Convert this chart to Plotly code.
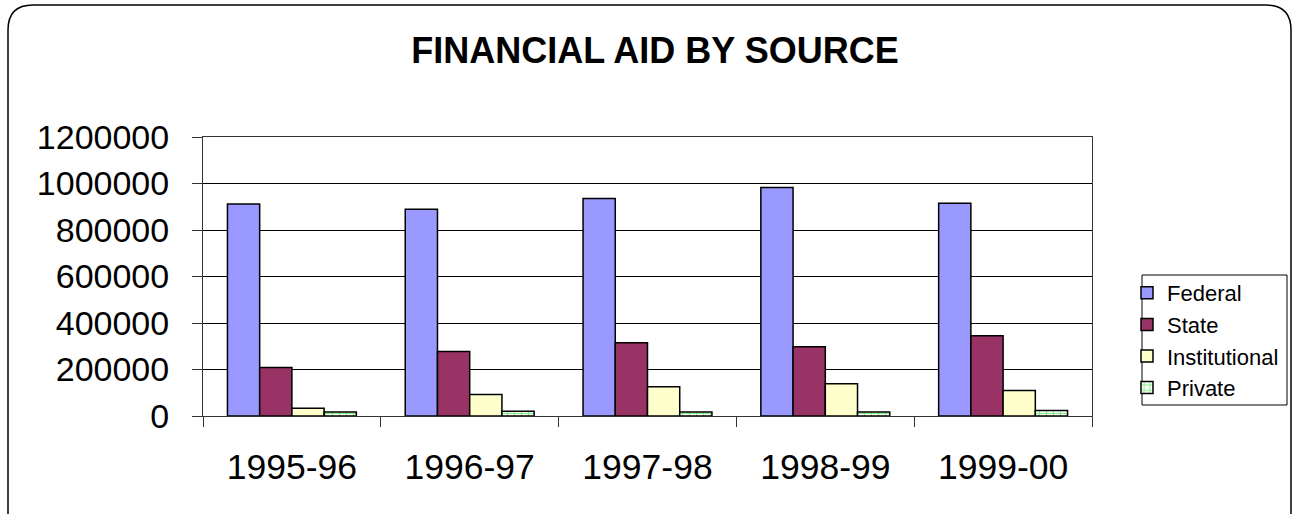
import plotly.graph_objects as go

years = ["1995-96", "1996-97", "1997-98", "1998-99", "1999-00"]
federal = [912000, 889000, 935000, 983000, 915000]
state = [209000, 277000, 315000, 298000, 345000]
institutional = [33000, 93000, 126000, 139000, 110000]
private = [17000, 20000, 17000, 17000, 24000]
y_ticks = [0, 200000, 400000, 600000, 800000, 1000000, 1200000]

FONT = "Liberation Sans, Arial, sans-serif"
line = dict(color="black", width=1.5)

fig = go.Figure()
fig.add_trace(go.Bar(name="Federal", x=years, y=federal,
                     marker=dict(color="#9999FF", line=line)))
fig.add_trace(go.Bar(name="State", x=years, y=state,
                     marker=dict(color="#993366", line=line)))
fig.add_trace(go.Bar(name="Institutional", x=years, y=institutional,
                     marker=dict(color="#FFFFCC", line=line)))
fig.add_trace(go.Bar(name="Private", x=years, y=private,
                     marker=dict(color="white", line=line,
                                 pattern=dict(shape="+", fgcolor="#00DD00",
                                              bgcolor="white", size=7, solidity=0.3))))

# plot area in pixels: x 203..1092, y 137..416
L, R, T, B = 203, 1092, 137, 416
W, H = R - L, B - T
def px(x): return (x - L) / W
def py(y): return (B - y) / H

# rounded outer border
x0, x1, y0, y1 = px(8), px(1291), py(5), py(530)
rx, ry = 25 / W, 25 / H
path = (f"M {x0},{y0 - ry} L {x0},{y1} L {x1},{y1} L {x1},{y0 - ry} "
        f"Q {x1},{y0} {x1 - rx},{y0} L {x0 + rx},{y0} Q {x0},{y0} {x0},{y0 - ry} Z")

fig.update_layout(
    width=1293, height=514,
    margin=dict(l=L, r=1293 - R, t=T, b=514 - B, autoexpand=False),
    paper_bgcolor="white", plot_bgcolor="white",
    barmode="group", bargap=0.275, bargroupgap=0,
    font=dict(family=FONT, color="black"),
    title=dict(text="<b>FINANCIAL AID BY SOURCE</b>", x=655 / 1293, xanchor="center",
               y=1 - 50 / 514, yanchor="middle", font=dict(size=36, family=FONT)),
    showlegend=True,
    legend=dict(x=px(1127), xanchor="left", y=py(272), yanchor="top",
                borderwidth=0, bgcolor="rgba(0,0,0,0)",
                font=dict(size=22, family=FONT), traceorder="normal",
                itemwidth=30),
    shapes=[dict(type="path", xref="paper", yref="paper", path=path,
                 line=dict(color="black", width=1.5), layer="below"),
            dict(type="rect", xref="paper", yref="paper",
                 x0=px(1142), x1=px(1287), y0=py(405), y1=py(275),
                 line=dict(color="black", width=1), layer="below")],
    xaxis=dict(type="category", showline=True, linecolor="#333333", linewidth=1,
               mirror=True, ticks="outside", tickson="boundaries", ticklen=10,
               tickcolor="#333333", tickfont=dict(size=35.5, family=FONT),
               ticklabelstandoff=19, showgrid=False),
    yaxis=dict(range=[0, 1200000], tickvals=y_ticks,
               ticktext=[str(v) for v in y_ticks],
               showline=True, linecolor="#333333", linewidth=1, mirror=True,
               ticks="outside", ticklen=10, tickcolor="#333333",
               tickfont=dict(size=34, family=FONT), ticklabelstandoff=16,
               showgrid=True, gridcolor="black", gridwidth=1, zeroline=False),
)

fig.write_html("out.html", config={"displayModeBar": False},
               post_script="document.body.style.margin='0';")
